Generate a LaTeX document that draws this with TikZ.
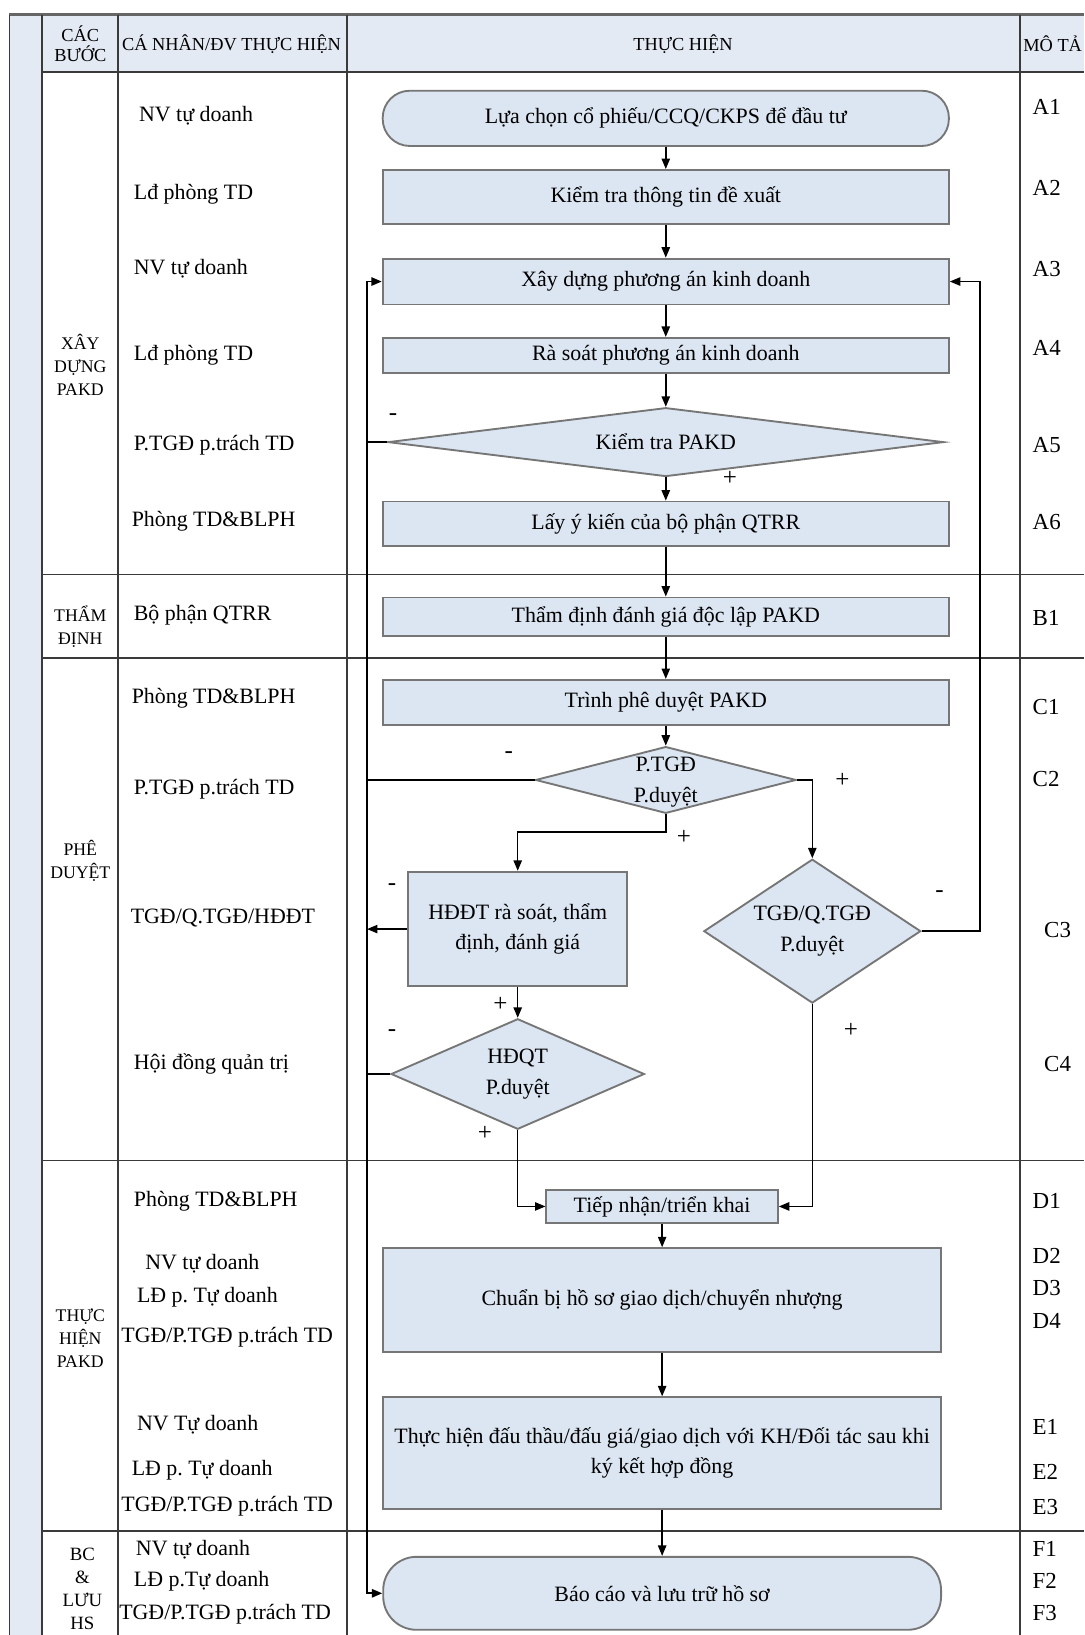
\documentclass[tikz,border=0pt]{standalone}
\usepackage{fontspec}
\setmainfont{Liberation Serif}
\usetikzlibrary{shapes.geometric,arrows.meta}
\definecolor{boxfill}{HTML}{DCE6F2}
\definecolor{boxline}{HTML}{767676}
\definecolor{hdrfill}{HTML}{E3EAF4}
\definecolor{gridline}{HTML}{3A3A3A}
\newcommand\fz[2]{\fontsize{#1pt}{#2pt}\selectfont}
\frenchspacing
\begin{document}
\frenchspacing
\begin{tikzpicture}[x=0.5pt,y=-0.5pt,
  proc/.style={draw=boxline, fill=boxfill, line width=0.9pt, inner sep=1pt, align=center, font=\fz{10.5}{14.5}},
  dec/.style={draw=boxline, fill=boxfill, line width=0.9pt, diamond, inner sep=0pt},
  dtext/.style={align=center, inner sep=0pt, font=\fz{10.5}{14.5}},
  conn/.style={line width=0.7pt, draw=black},
  arr/.style={conn, -{Triangle[length=5pt,width=4pt]}},
  who/.style={anchor=west, inner sep=0pt, font=\fz{10.5}{13}},
  code/.style={anchor=west, inner sep=0pt, font=\fz{11}{13}},
  phase/.style={align=center, inner sep=0pt, font=\fz{8.5}{11}},
  hdr/.style={align=center, inner sep=0pt, font=\fz{8.8}{9.5}},
  sign/.style={inner sep=0pt, font=\fz{12}{12}},
  grid/.style={draw=gridline, line width=0.8pt}
]
\useasboundingbox (0,0) rectangle (1040,1568);
% backgrounds
\fill[hdrfill] (9,14) rectangle (40,1568);
\fill[hdrfill] (40,14) rectangle (1040,69);
% grid
\draw[grid, draw=gray!80!black, line width=1.4pt] (9,14) -- (1040,14);
\draw[grid] (9,14) -- (9,1568);
\foreach \x in {40,113,333,978} \draw[grid] (\x,14) -- (\x,1568);
\foreach \y in {69,551,631,1113,1468} \draw[grid] (40,\y) -- (1040,\y);

% headers
\node[hdr] (h1) at (77,42) {CÁC\\BƯỚC};
\node[hdr] (h2) at (222,42) {CÁ NHÂN/ĐV THỰC HIỆN};
\node[hdr] (h3) at (655,42) {THỰC HIỆN};
\node[hdr, anchor=west] (h4) at (981,42) {MÔ TẢ};

% phases
\node[phase] (p1) at (77,350) {XÂY\\DỰNG\\PAKD};
\node[phase] (p2) at (77,601) {THẨM\\ĐỊNH};
\node[phase] (p3) at (77,826) {PHÊ\\DUYỆT};
\node[phase] (p4) at (77,1283) {THỰC\\HIỆN\\PAKD};
\node[phase, font=\fz{9}{11}] (p5) at (79,1524) {BC\\\&\\LƯU\\HS};

% who
\node[who] (w1) at (133,111) {NV tự doanh};
\node[who] (w2) at (128,186) {Lđ phòng TD};
\node[who] (w3) at (128,258) {NV tự doanh};
\node[who] (w4) at (128,341) {Lđ phòng TD};
\node[who] (w5) at (128,427) {P.TGĐ p.trách TD};
\node[who] (w6) at (126,500) {Phòng TD\&BLPH};
\node[who] (w7) at (128,590) {Bộ phận QTRR};
\node[who] (w8) at (126,670) {Phòng TD\&BLPH};
\node[who] (w9) at (128,757) {P.TGĐ p.trách TD};
\node[who] (w10) at (125,880) {TGĐ/Q.TGĐ/HĐĐT};
\node[who] (w11) at (128,1020) {Hội đồng quản trị};
\node[who] (w12) at (128,1152) {Phòng TD\&BLPH};
\node[who] (w13) at (139,1212) {NV tự doanh};
\node[who] (w14) at (131,1244) {LĐ p. Tự doanh};
\node[who] (w15) at (116,1282) {TGĐ/P.TGĐ p.trách TD};
\node[who] (w16) at (131,1366) {NV Tự doanh};
\node[who] (w17) at (126,1410) {LĐ p. Tự doanh};
\node[who] (w18) at (116,1444) {TGĐ/P.TGĐ p.trách TD};
\node[who] (w19) at (130,1486) {NV tự doanh};
\node[who] (w20) at (128,1516) {LĐ p.Tự doanh};
\node[who] (w21) at (114,1548) {TGĐ/P.TGĐ p.trách TD};

% codes
\node[code] (k1) at (990,103) {A1};
\node[code] (k2) at (990,180) {A2};
\node[code] (k3) at (990,258) {A3};
\node[code] (k4) at (990,334) {A4};
\node[code] (k5) at (990,427) {A5};
\node[code] (k6) at (990,501) {A6};
\node[code] (k7) at (990,593) {B1};
\node[code] (k8) at (990,678) {C1};
\node[code] (k9) at (990,747) {C2};
\node[code] (k10) at (1001,892) {C3};
\node[code] (k11) at (1001,1020) {C4};
\node[code] (k12) at (990,1152) {D1};
\node[code] (k13) at (990,1204) {D2};
\node[code] (k14) at (990,1235) {D3};
\node[code] (k15) at (990,1267) {D4};
\node[code] (k16) at (990,1368) {E1};
\node[code] (k17) at (990,1412) {E2};
\node[code] (k18) at (990,1445) {E3};
\node[code] (k19) at (990,1485) {F1};
\node[code] (k20) at (990,1516) {F2};
\node[code] (k21) at (990,1547) {F3};

% flow nodes
\node[proc, rounded corners=13pt, minimum width=271.5pt, minimum height=26.5pt] (a1) at (638.5,113.5) {Lựa chọn cổ phiếu/CCQ/CKPS để đầu tư};
\node[proc, minimum width=271.5pt, minimum height=26pt] (a2) at (638.5,189) {Kiểm tra thông tin đề xuất};
\node[proc, minimum width=271.5pt, minimum height=22pt] (a3) at (638.5,270) {Xây dựng phương án kinh doanh};
\node[proc, minimum width=271.5pt, minimum height=17pt] (a4) at (638.5,341) {Rà soát phương án kinh doanh};
\node[dec, minimum width=266.5pt, minimum height=33pt] (a5) at (638.5,424) {};
\node[dtext] (a5t) at (a5) {Kiểm tra PAKD};
\node[proc, minimum width=271.5pt, minimum height=21.5pt] (a6) at (638.5,502.5) {Lấy ý kiến của bộ phận QTRR};
\node[proc, minimum width=271.5pt, minimum height=18.5pt] (b1) at (638.5,591.5) {Thẩm định đánh giá độc lập PAKD};
\node[proc, minimum width=271.5pt, minimum height=21.5pt] (c1) at (638.5,673.5) {Trình phê duyệt PAKD};
\node[dec, minimum width=125pt, minimum height=32pt] (c2) at (638.5,748) {};
\node[dtext] (c2t) at ([yshift=-1pt]c2.center) {P.TGĐ\\P.duyệt};
\node[proc, minimum width=105pt, minimum height=55pt] (c3a) at (496.5,891) {HĐĐT rà soát, thẩm\\định, đánh giá};
\node[dec, minimum width=104pt, minimum height=69pt] (c3b) at (779,893) {};
\node[dtext] (c3bt) at (c3b) {TGĐ/Q.TGĐ\\P.duyệt};
\node[dec, minimum width=121.5pt, minimum height=53pt] (c4) at (496.5,1030) {};
\node[dtext] (c4t) at (c4) {HĐQT\\P.duyệt};
\node[proc, minimum width=111pt, minimum height=16pt] (d1) at (635,1157) {Tiếp nhận/triển khai};
\node[proc, minimum width=267.5pt, minimum height=50pt] (d2) at (635,1247) {Chuẩn bị hồ sơ giao dịch/chuyển nhượng};
\node[proc, minimum width=267.5pt, minimum height=53.5pt] (e1) at (635,1393.5) {Thực hiện đấu thầu/đấu giá/giao dịch với KH/Đối tác sau khi\\ký kết hợp đồng};
\node[proc, rounded corners=16pt, minimum width=267.5pt, minimum height=35pt] (f1) at (635,1528) {Báo cáo và lưu trữ hồ sơ};

% helper coordinates
\coordinate (LM) at (352,748);
\coordinate (RT) at (940,270);

% main chain
\draw[arr] (a1) -- (a2);
\draw[arr] (a2) -- (a3);
\draw[arr] (a3) -- (a4);
\draw[arr] (a4) -- (a5);
\draw[arr] (a5) -- (a6);
\draw[arr] (a6) -- (b1);
\draw[arr] (b1) -- (c1);
\draw[arr] (c1) -- (c2);
\draw[arr] (d1) -- (d2);
\draw[arr] (d2) -- (e1);
\draw[arr] (e1) -- (f1);

% left return line
\draw[arr, line width=0.9pt] (LM) |- (a3.west);
\draw[arr, line width=0.9pt] (LM) |- (f1.west);
\draw[conn] (a5.west) -- (a5.west -| LM);
\draw[conn] (c2.west) -- (c2.west -| LM);
\draw[arr] (c3a.west) -- (c3a.west -| LM);
\draw[conn] (c4.west) -- (c4.west -| LM);

% branches
\draw[arr] (c2.east) -| (c3b.north);
\draw[arr] (c2.south) -- ++(0,17) -| (c3a.north);
\draw[arr] (c3a.south) -- (c4.north);
\draw[arr] (c4.south) |- (d1.west);
\draw[arr] (c3b.south) |- (d1.east);
\draw[arr] (c3b.east) -| (RT) -- (a3.east);

% signs
\node[sign] (s1) at (377,400) {-};
\node[sign] (s2) at (700,459) {+};
\node[sign] (s3) at (488,724) {-};
\node[sign] (s4) at (808,748) {+};
\node[sign] (s5) at (656,803) {+};
\node[sign] (s6) at (376,851) {-};
\node[sign] (s7) at (480,963) {+};
\node[sign] (s8) at (376,991) {-};
\node[sign] (s9) at (465,1087) {+};
\node[sign] (s10) at (901,857) {-};
\node[sign] (s11) at (816,988) {+};
\end{tikzpicture}
\end{document}
